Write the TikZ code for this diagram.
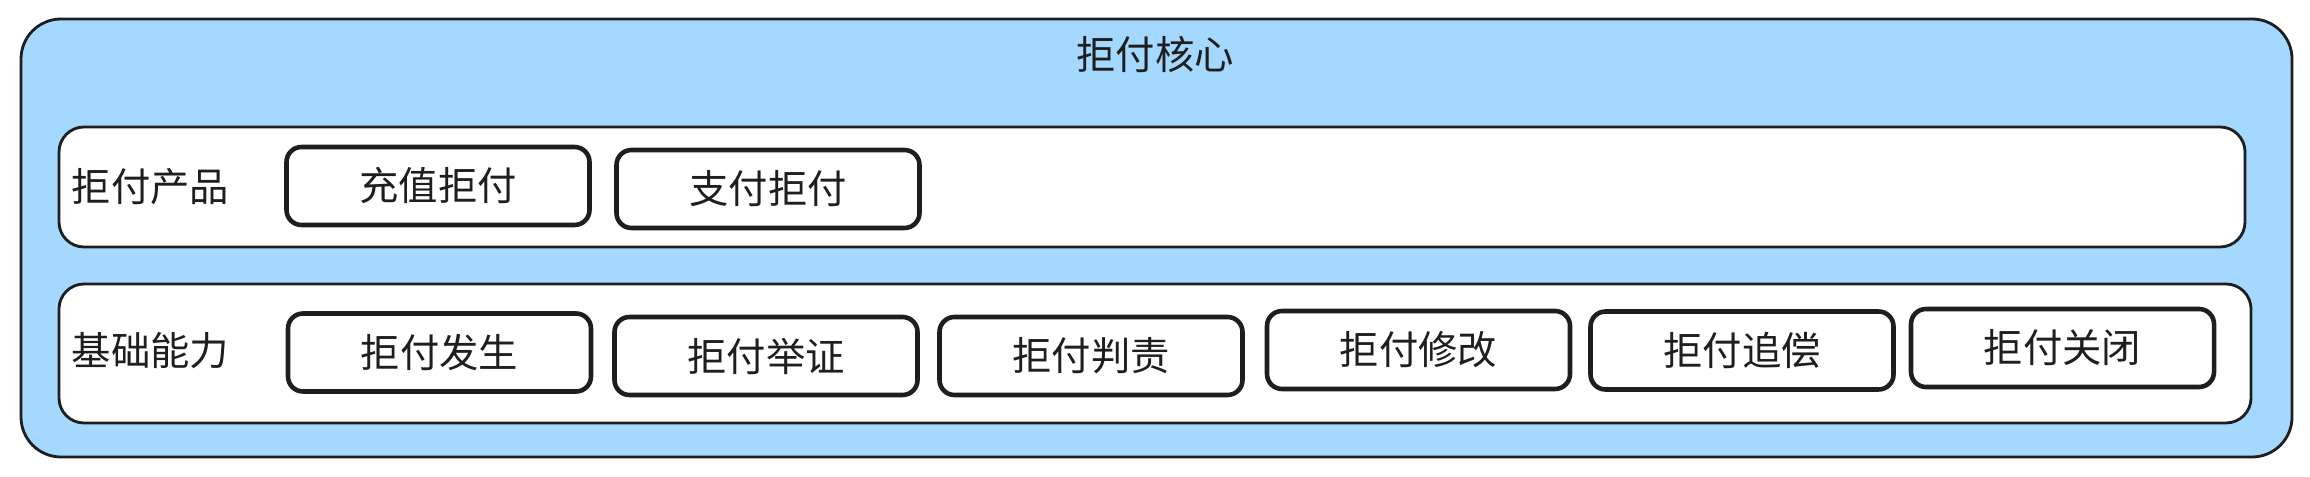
\documentclass[tikz,border=0pt]{standalone}
\usepackage{fontspec}
\setmainfont{Noto Sans CJK SC}
\usetikzlibrary{positioning}
\definecolor{ink}{HTML}{1E1E1E}
\definecolor{sky}{HTML}{A5D8FF}
\tikzset{
  core/.style={draw=ink, line width=0.8pt, fill=sky, rounded corners=0.4cm, inner sep=0pt},
  lane/.style={draw=ink, line width=0.8pt, fill=white, rounded corners=0.25cm, inner sep=0pt},
  item/.style={draw=ink, line width=1.3pt, fill=white, rounded corners=0.15cm, inner sep=0pt,
    minimum width=3.03cm, minimum height=0.78cm, text=ink},
  tag/.style={text=ink, inner sep=0pt}
}
\begin{document}
\begin{tikzpicture}[font=\fontsize{11.2}{13}\selectfont]
\useasboundingbox (0,0) rectangle (23.1,-4.77);
\node[core, minimum width=22.71cm, minimum height=4.38cm] (hexin) at (11.565,-2.38) {};
\node[tag] (biaoti) at (11.55,-0.55) {拒付核心};
\node[lane, minimum width=21.86cm, minimum height=1.2cm] (chanpin) at (11.52,-1.87) {};
\node[lane, minimum width=21.92cm, minimum height=1.39cm] (nengli) at (11.55,-3.535) {};
\node[tag, anchor=west] (chanpin_t) at (0.71,-1.87) {拒付产品};
\node[tag, anchor=west] (nengli_t) at (0.71,-3.51) {基础能力};
\foreach \t/\x/\y [count=\i] in {充值拒付/4.38/-1.86, 支付拒付/7.68/-1.89} {
  \node[item] (p_\i) at (\x,\y) {\t};
}
\foreach \t/\x/\y [count=\i] in {拒付发生/4.395/-3.525, 拒付举证/7.66/-3.56, 拒付判责/10.91/-3.56,
  拒付修改/14.185/-3.5, 拒付追偿/17.42/-3.505, 拒付关闭/20.625/-3.48} {
  \node[item] (n_\i) at (\x,\y) {\t};
}
\end{tikzpicture}
\end{document}
